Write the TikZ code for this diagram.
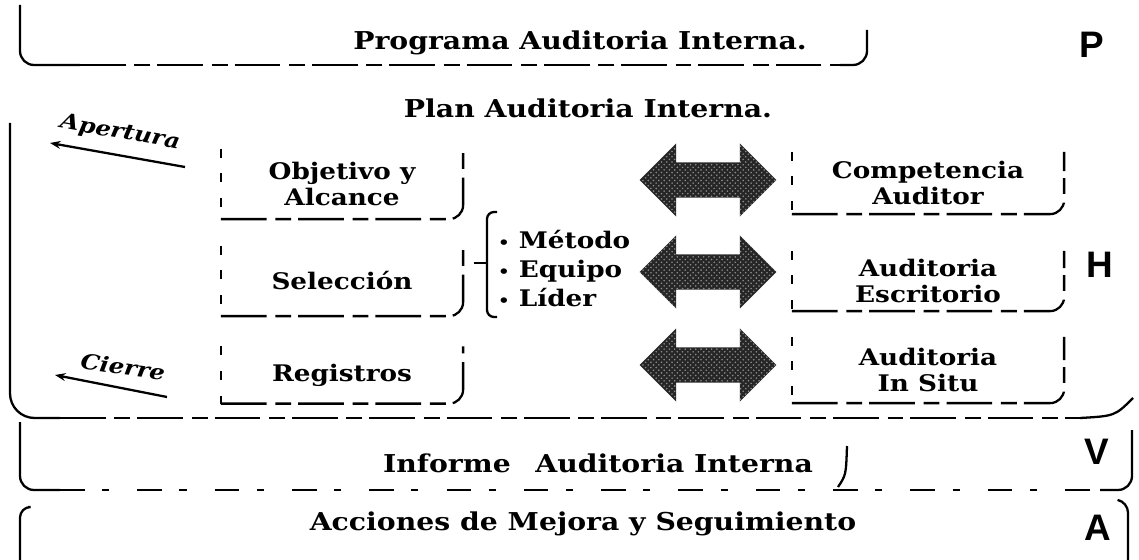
\documentclass[tikz,border=0pt]{standalone}
\usepackage{fontspec}
\setmainfont[FakeStretch=1.15]{DejaVu Serif}
\newfontfamily\pdcafont{Liberation Sans}
\usepackage{tikz}
\usetikzlibrary{shapes.arrows,patterns,arrows.meta}
\newcommand{\halfbox}[1]{%
	\draw[leftedge] (#1.north west) -- (#1.south west);
	\draw[footedge,rounded corners=8pt] (#1.south west) -- (#1.south east) -- (#1.north east);}

\begin{document}
\begin{tikzpicture}[x=0.02cm,y=-0.02cm,line width=1.3pt,
	title/.style={font=\fontsize{14}{16}\selectfont\bfseries},
	cell/.style={font=\fontsize{13}{14.5}\selectfont\bfseries,align=center,inner sep=0pt},
	tag/.style={font=\fontsize{12}{14}\selectfont\bfseries\itshape},
	pdca/.style={font=\fontsize{21}{21}\selectfont\pdcafont\bfseries},
	leftedge/.style={dash pattern=on 5pt off 9pt},
	footedge/.style={dash pattern=on 26pt off 5pt on 9pt off 4pt},
	dblarrow/.style={double arrow,double arrow head extend=0.38cm,inner xsep=0pt,inner ysep=0.33cm,
		minimum height=2.74cm,preaction={fill=black!85},pattern=crosshatch dots,pattern color=white!55!black}]
\useasboundingbox (0,0) rectangle (1139,560);
\draw[rounded corners=8pt] (20,5) -- (20,65) -- (80,65);
\draw[footedge] (80,65) -- (840,65);
\draw[rounded corners=8pt] (840,65) -- (867,65) -- (867,30);
\draw[rounded corners=14pt] (10,123) -- (10,418) -- (60,418);
\draw[footedge] (60,418) -- (1080,418);
\draw (1080,418) .. controls (1115,416) .. (1133,398);
\draw[rounded corners=8pt] (20,422) -- (20,490) -- (60,490);
\draw[dash pattern=on 14pt off 10pt on 4pt off 16pt] (60,490) -- (1100,490);
\draw[rounded corners=8pt] (1100,490) -- (1132,490) -- (1132,430);
\draw (847,446) .. controls (846,475) .. (838,487);
\draw[rounded corners=6pt] (28,507) -- (20,507) -- (20,560);
\draw[rounded corners=6pt] (1118,500) -- (1128,502) -- (1128,560);

\node (prog) [title] at (580,43) {Programa Auditoria Interna.};
\node (plan) [title] at (588,108) {Plan Auditoria Interna.};
\node (inf) [title] at (598,463) {Informe\quad Auditoria Interna};
\node (acc) [title] at (583,524) {Acciones de Mejora y Seguimiento};
\node (lp) [pdca] at (1092,45) {P};
\node (lh) [pdca] at (1100,265) {H};
\node (lv) [pdca] at (1097,452) {V};
\node (la) [pdca] at (1098,528) {A};

\node (aper) [tag,rotate=-10] at (120,133) {Apertura};
\coordinate (aperfrom) at (185,167);
\coordinate (aperto) at (50,143);
\draw[-{Stealth[length=6pt]}] (aperfrom) -- (aperto);
\node (cier) [tag,rotate=-8] at (123,367) {Cierre};
\coordinate (cierfrom) at (167,397);
\coordinate (cierto) at (55,375);
\draw[-{Stealth[length=6pt]}] (cierfrom) -- (cierto);

\foreach \n/\y/\h/\t in {obj/184/1.36/{Objetivo y\\Alcance},sel/281/1.36/{Selección},reg/375/1.1/{Registros}}{
	\node (\n) [cell,minimum width=4.8cm,minimum height=\h cm] at (342,\y) {\t};
	\halfbox{\n}
}
\foreach \n/\y/\h/\t in {comp/183/1.2/{Competencia\\Auditor},esc/281/1.16/{Auditoria\\Escritorio},situ/370/1.28/{Auditoria\\In Situ}}{
	\node (\n) [cell,minimum width=5.4cm,minimum height=\h cm] at (928,\y) {\t};
	\halfbox{\n}
}
\foreach \n/\y in {ar1/180,ar2/272,ar3/365}
	\node (\n) [dblarrow] at (708,\y) {};

\node (list) [anchor=west,font=\fontsize{13}{16.5}\selectfont\bfseries,align=left,inner sep=0pt] at (497,269) {{\fontsize{9}{9}\selectfont\textbullet}\ Método\\{\fontsize{9}{9}\selectfont\textbullet}\ Equipo\\{\fontsize{9}{9}\selectfont\textbullet}\ Líder};
\draw[rounded corners=4pt] (497,212) -- (487,212) -- (487,317) -- (497,317);
\coordinate (brk) at (487,263);
\coordinate (tick) at (474,263);
\draw (tick) -- (brk);
\end{tikzpicture}
\end{document}
